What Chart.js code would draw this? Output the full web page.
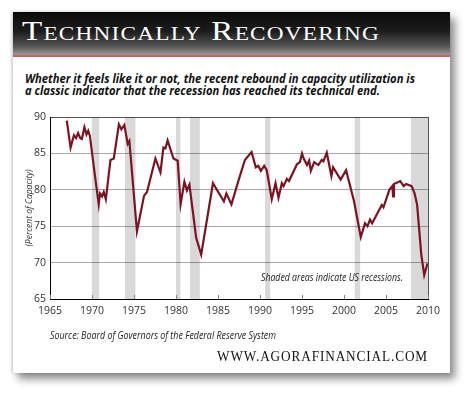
<!DOCTYPE html>
<html lang="en">
<head>
  <meta charset="UTF-8" />
  <title>Technically Recovering</title>
  <script src="https://cdn.jsdelivr.net/npm/chart.js"></script>
  <style>
    body { margin: 0; width: 470px; height: 394px; background: #fff; position: relative; overflow: hidden; font-family: 'Open Sans', sans-serif; }
    #card { position: absolute; left: 13px; top: 12px; width: 437px; height: 361px; background: #fff;
            box-shadow: 5px 6px 8px rgba(0,0,0,0.45), -1px 0 3px rgba(0,0,0,0.2); }
    #bar { position: absolute; left: 0; top: 0; width: 100%; height: 43px;
           background: linear-gradient(#0b0b0b 0%, #1c1c1c 45%, #555 80%, #9a9a9a 100%);
           border-bottom: 2px solid #d25c5c; }
    .t { position: absolute; white-space: nowrap; display: inline-block; transform-origin: left center; }
    #title { left: 22px; top: 18px; font-family: 'Liberation Serif', serif; font-variant: small-caps; font-size: 27px; line-height: 27px; color: #fff; letter-spacing: 1px; }
    #sub1, #sub2 { left: 25px; font-weight: bold; font-style: italic; font-size: 12.5px; line-height: 14px; color: #111; }
    #sub1 { top: 72px; }
    #sub2 { top: 84px; }
    #note { left: 261px; top: 270px; font-style: italic; font-size: 10px; line-height: 14px; color: #222; }
    #source { left: 50px; top: 328px; font-style: italic; font-size: 10px; line-height: 14px; color: #222; }
    #web { left: 217px; top: 347px; font-family: 'Liberation Serif', serif; font-size: 15px; line-height: 18px; color: #111; letter-spacing: 1px; }
    canvas { position: absolute; left: 0; top: 0; }
  </style>
</head>
<body>
  <div id="card"><div id="bar"></div></div>
  <span class="t" id="title">Technically Recovering</span>
  <span class="t" id="sub1">Whether it feels like it or not, the recent rebound in capacity utilization is</span>
  <span class="t" id="sub2">a classic indicator that the recession has reached its technical end.</span>
  <canvas id="grafica" width="470" height="394"></canvas>
  <span class="t" id="note">Shaded areas indicate US recessions.</span>
  <span class="t" id="source">Source: Board of Governors of the Federal Reserve System</span>
  <span class="t" id="web">WWW.AGORAFINANCIAL.COM</span>

  <script>
    // Capacity utilization (% of capacity)
    const years = [
      1967.0, 1967.45, 1967.85, 1968.1, 1968.35, 1968.6, 1968.8, 1969.1, 1969.35, 1969.55, 1969.75,
      1970.3, 1970.8, 1970.95, 1971.2, 1971.4, 1971.65, 1972.2, 1972.6, 1973.2, 1973.5, 1973.85,
      1974.25, 1974.45, 1975.35, 1976.2, 1976.55, 1977.55, 1978.15, 1978.5, 1978.75, 1979.0,
      1979.7, 1980.2, 1980.55, 1981.0, 1981.3, 1981.6, 1982.4, 1983.0, 1984.4, 1985.7, 1986.0,
      1986.6, 1987.5, 1988.2, 1989.0, 1989.5, 1989.8, 1990.1, 1990.5, 1990.8, 1991.4, 1991.85,
      1992.2, 1992.6, 1992.8, 1993.2, 1993.45, 1994.4, 1994.75, 1995.0, 1995.2, 1995.6, 1995.85,
      1996.05, 1996.45, 1996.95, 1997.35, 1997.55, 1997.95, 1998.5, 1998.7, 1999.6, 2000.25,
      2001.2, 2002.0, 2002.5, 2002.8, 2003.1, 2003.35, 2004.5, 2004.7, 2005.4, 2005.75, 2005.85,
      2005.95, 2006.7, 2007.1, 2007.4, 2008.05, 2008.4, 2008.7, 2009.2, 2009.55, 2009.95
    ];
    const utilization = [
      89.5, 85.8, 87.5, 87.1, 87.8, 87.1, 87.0, 88.6, 87.6, 88.1, 87.4,
      82.4, 78.0, 79.5, 79.1, 79.7, 78.7, 84.1, 84.3, 89.0, 88.3, 88.9,
      86.3, 86.7, 74.3, 79.2, 79.7, 84.3, 82.4, 85.8, 85.7, 86.8,
      84.3, 84.0, 78.0, 81.1, 79.9, 80.7, 73.4, 71.1, 80.9, 78.4, 79.5,
      78.0, 81.5, 84.1, 85.2, 83.1, 83.3, 82.6, 83.3, 82.7, 78.7, 80.9,
      78.9, 80.9, 80.5, 81.5, 81.2, 83.5, 83.8, 85.0, 84.3, 83.4, 84.0,
      82.6, 83.8, 83.4, 84.1, 83.9, 85.1, 81.9, 83.1, 81.4, 82.7,
      78.4, 73.5, 75.4, 75.0, 75.9, 75.4, 77.9, 77.6, 80.0, 80.5, 79.1,
      80.8, 81.2, 80.5, 80.8, 80.5, 79.5, 78.0, 71.1, 68.3, 69.9
    ];

    // US recessions (shaded)
    const recessionStart = [1969.95, 1973.9, 1980.0, 1981.65, 1990.6, 2001.25, 2007.95];
    const recessionEnd   = [1970.9, 1975.2, 1980.55, 1982.85, 1991.25, 2001.95, 2010];

    const tickYears = [1965, 1970, 1975, 1980, 1985, 1990, 1995, 2000, 2005, 2010];
    const tickPercent = [65, 70, 75, 80, 85, 90];

    // ajustar el ancho de los textos
    function fit(id, w) {
      const el = document.getElementById(id);
      const r = w / el.getBoundingClientRect().width;
      el.style.transform = 'scaleX(' + r + ')';
    }
    fit('title', 358); fit('sub1', 390); fit('sub2', 355);
    fit('note', 142); fit('source', 226); fit('web', 211);

    const recessionSets = recessionStart.map((s, i) => ({
      data: [{ x: s, y: 90 }, { x: recessionEnd[i], y: 90 }],
      borderWidth: 0,
      pointRadius: 0,
      backgroundColor: 'rgba(0,0,0,0.15)',
      fill: 'start'
    }));

    const frame = {
      id: 'frame',
      afterDatasetsDraw(chart) {
        const { ctx, chartArea: a, scales: { x } } = chart;
        ctx.save();
        ctx.strokeStyle = '#555';
        ctx.lineWidth = 1;
        ctx.beginPath();
        ctx.moveTo(a.right + 0.5, a.top);
        ctx.lineTo(a.right + 0.5, a.bottom);
        ctx.stroke();
        ctx.strokeStyle = '#888';
        ctx.beginPath();
        tickYears.forEach(v => {
          const px = Math.round(x.getPixelForValue(v)) + 0.5;
          ctx.moveTo(px, a.bottom);
          ctx.lineTo(px, a.bottom - 4);
        });
        ctx.stroke();
        ctx.restore();
      }
    };

    Chart.defaults.font.family = "'Open Sans', sans-serif";
    new Chart(document.getElementById('grafica').getContext('2d'), {
      type: 'line',
      data: {
        datasets: [{
          data: years.map((y, i) => ({ x: y, y: utilization[i] })),
          borderColor: '#7d1322',
          borderWidth: 2.2,
          pointRadius: 0,
          fill: false,
          tension: 0
        }, ...recessionSets]
      },
      options: {
        responsive: false,
        animation: false,
        layout: { padding: { left: 0, right: 42, top: 117, bottom: 0 } },
        plugins: { legend: { display: false }, tooltip: { enabled: false } },
        scales: {
          x: {
            type: 'linear',
            min: 1965,
            max: 2010,
            afterBuildTicks: s => { s.ticks = tickYears.map(v => ({ value: v })); },
            afterFit: s => { s.height = 95; },
            grid: { drawOnChartArea: false, drawTicks: false },
            border: { color: '#000', width: 1 },
            ticks: { padding: 6, color: '#333', font: { size: 10.5 }, maxRotation: 0, callback: v => String(v) }
          },
          y: {
            min: 65,
            max: 90,
            afterBuildTicks: s => { s.ticks = tickPercent.map(v => ({ value: v })); },
            afterFit: s => { s.width = 50; },
            grid: {
              drawTicks: false,
              color: c => (c.tick && c.tick.value === 90 ? '#555' : '#a8a8a8')
            },
            border: { color: '#000', width: 1 },
            ticks: { padding: 4, color: '#333', font: { size: 10.5 }, callback: v => String(v) },
            title: {
              display: true,
              text: '(Percent of Capacity)',
              color: '#333',
              font: { size: 8.5, style: 'italic' },
              padding: { top: 24, bottom: 0 }
            }
          }
        }
      },
      plugins: [frame]
    });
  </script>
</body>
</html>
